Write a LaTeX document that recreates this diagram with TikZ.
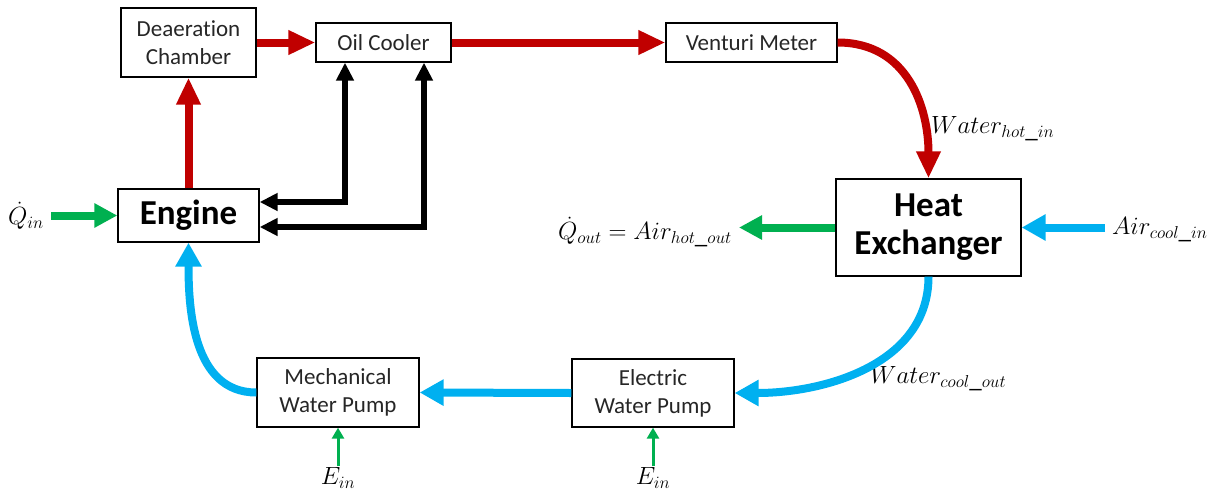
\documentclass[tikz,border=0pt]{standalone}
\usepackage{fontspec}
\setmainfont{Carlito}[Ligatures={NoCommon,NoRequired}]
\usetikzlibrary{arrows.meta,calc}
\definecolor{cred}{HTML}{C00000}
\definecolor{cgreen}{HTML}{00B050}
\definecolor{cblue}{HTML}{00B0F0}
\begin{document}
\begin{tikzpicture}[x=1pt,y=1pt,
  box/.style={draw=black,line width=1.3pt,inner sep=0pt,align=center,
    font=\fontsize{23}{28}\selectfont,text=black!85},
  bigbox/.style={box,font=\fontsize{35}{41}\selectfont\bfseries,text=black},
  lab/.style={inner sep=1pt,font=\fontsize{25}{29}\selectfont},
  redarr/.style={draw=cred,line width=8pt,-{Triangle[length=27pt,width=23pt]}},
  blkarr/.style={draw=black,line width=6pt,{Triangle[length=18pt,width=17pt]}-{Triangle[length=18pt,width=17pt]}},
  bluarr/.style={draw=cblue,line width=8pt,-{Triangle[length=24pt,width=25pt]}},
  grnarr/.style={draw=cgreen,line width=8pt,-{Triangle[length=23pt,width=23pt]}},
  smallgrn/.style={draw=cgreen,line width=3pt,-{Triangle[length=11pt,width=12pt]}}
]
\useasboundingbox (0,0) rectangle (1226,-493);

\node[box,minimum width=135pt,minimum height=69pt] (deaer) at (188.5,-42.5) {Deaeration\\Chamber};
\node[box,minimum width=135pt,minimum height=39pt] (oil) at (383.5,-42.5) {Oil Cooler};
\node[box,minimum width=171pt,minimum height=39pt] (vent) at (751.5,-42.5) {Venturi Meter};
\node[bigbox,minimum width=141pt,minimum height=53pt] (engine) at (188.5,-215.5) {Engine};
\node[bigbox,minimum width=185pt,minimum height=97pt] (hx) at (928.5,-227.5) {Heat\\[-3pt]Exchanger};
\node[box,minimum width=162pt,minimum height=69pt] (mech) at (338,-392.5) {Mechanical\\Water Pump};
\node[box,minimum width=162pt,minimum height=68pt] (elec) at (653,-393) {Electric\\Water Pump};

\node[lab] (qin) at (26,-216) {$\dot{Q}_{in}$};
\node[lab,anchor=west] (whot) at (930,-129) {$Water_{hot\_in}$};
\node[lab,anchor=east] (qout) at (733,-232) {$\dot{Q}_{out} = Air_{hot\_out}$};
\node[lab,anchor=west] (acin) at (1111,-230) {$Air_{cool\_in}$};
\node[lab,anchor=west] (wcout) at (869,-379) {$Water_{cool\_out}$};
\node[lab] (ein1) at (338,-478) {$E_{in}$};
\node[lab] (ein2) at (653,-478) {$E_{in}$};

\draw[redarr] (engine.north) -- (deaer.south);
\draw[redarr] (deaer.east) -- (oil.west);
\draw[redarr] (oil.east) -- (vent.west);
\draw[redarr] (vent.east) to[out=0,in=90,looseness=1.1] (hx.north);

\coordinate (b1) at (345,-202);
\coordinate (b2) at (424,-227);
\draw[blkarr] (engine.east |- b1) -- (b1) -- (oil.south -| b1);
\draw[blkarr] (engine.east |- b2) -- (b2) -- (oil.south -| b2);

\draw[grnarr,shorten <=6pt] (qin.east |- engine.west) -- (engine.west);
\draw[grnarr,shorten >=6pt] (hx.west) -- (qout.east |- hx.west);
\draw[bluarr,shorten <=6pt] (acin.west |- hx.east) -- (hx.east);
\draw[bluarr] (hx.south) to[out=-90,in=0] (elec.east);
\draw[bluarr] (elec.west) -- (mech.east);
\draw[bluarr] (mech.west) to[out=180,in=-90] (engine.south);

\draw[smallgrn] (ein1.north) -- (mech.south);
\draw[smallgrn] (ein2.north) -- (elec.south);
\end{tikzpicture}
\end{document}
